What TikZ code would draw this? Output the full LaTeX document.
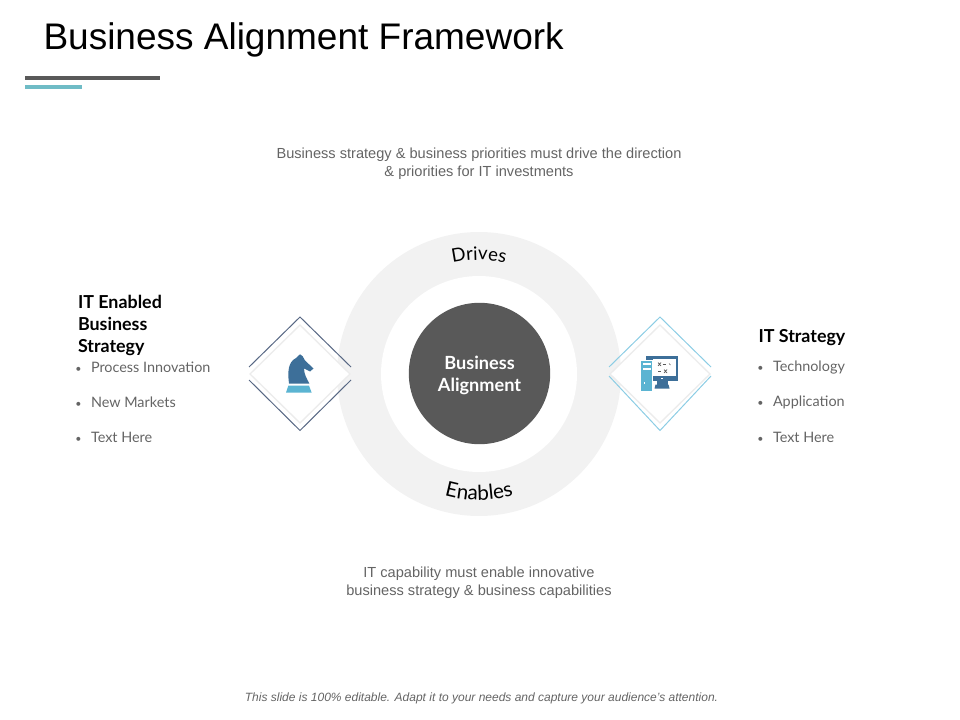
\documentclass[tikz,border=0pt]{standalone}
\usepackage{fontspec}
\setmainfont{Liberation Sans}
\newfontfamily\labelfont{Lato}
\usetikzlibrary{decorations.text}

\definecolor{ringgray}{RGB}{242,242,242}
\definecolor{hubgray}{RGB}{89,89,89}
\definecolor{bodygray}{RGB}{100,100,100}
\definecolor{barteal}{RGB}{111,188,198}
\definecolor{iconblue}{RGB}{61,111,153}
\definecolor{iconsky}{RGB}{91,180,210}
\definecolor{leftedge}{RGB}{88,104,132}
\definecolor{rightedge}{RGB}{140,205,228}
\definecolor{diamondedge}{RGB}{236,236,236}

\newcommand{\bulletitem}[1]{\llap{\footnotesize\textbullet\hspace{7pt}}#1}

\tikzset{every picture/.style={line width=0.75pt}}
\tikzset{
	note/.style={inner sep=0.75pt,align=center,text=bodygray,font=\fontsize{10.95}{13.5}\selectfont},
	heading/.style={anchor=west,inner sep=0.75pt,align=left,font=\labelfont\bfseries\fontsize{13.4}{16.5}\selectfont},
	itemtext/.style={anchor=west,inner sep=0.75pt,text=bodygray,font=\labelfont\fontsize{10.8}{12}\selectfont},
	arcword/.style 2 args={decorate,decoration={text along path,text align=center,text={|\labelfont\fontsize{#1}{#1}\selectfont|#2}}}
}

\begin{document}
\begin{tikzpicture}[x=0.75pt,y=0.75pt,yscale=-1,xscale=1]
	\useasboundingbox (0,0) rectangle (960,720);

	%Title and bars
	\node (title) [anchor=west,inner sep=0pt,font=\fontsize{27.75}{30}\selectfont] at (43,40) {Business Alignment Framework};
	\fill [hubgray] (25,76) rectangle (160,80);
	\fill [barteal] (25,85) rectangle (82,89);

	%Shape: Ring
	\fill [ringgray] (479,374) circle (142);
	\fill [white] (479,374) circle (98);
	\fill [hubgray] (479.5,373.5) circle (70.7);
	\node (hub) [inner sep=0pt,align=center,text=white,font=\labelfont\bfseries\fontsize{13.6}{16.5}\selectfont] at (479.5,375) {Business\\Alignment};

	%Words on the ring
	\path [arcword={14}{Drives}] (479,374) ++(250:114) arc (250:290:114);
	\path [arcword={15.5}{Enables}] (479,374) ++(110:126) arc (110:70:126);

	%Shape: Left diamond
	\draw [diamondedge,fill=white,line width=1pt] (300,325) -- (350,374) -- (300,423) -- (250,374) -- cycle;
	\draw [leftedge] (249,367) -- (300,317) -- (351,367);
	\draw [leftedge] (249,380) -- (300,430.5) -- (351,380);

	%Shape: Right diamond
	\draw [diamondedge,fill=white,line width=1pt] (660,325) -- (710,374) -- (660,423) -- (610,374) -- cycle;
	\draw [rightedge] (609,367) -- (660,317) -- (711,367);
	\draw [rightedge] (609,376) -- (660,430.5) -- (711,376);

	%Knight icon
	\fill [iconsky] (288.3,385.7) -- (309,385.7) -- (311.7,392.7) -- (286,392.7) -- cycle;
	\fill [iconblue] (289,383.5) .. controls (287.5,372) and (288,362) .. (296,358) -- (300,354.3) -- (302.7,356.3) -- (305,360.5) -- (313.5,368.5) -- (310,371.5) -- (304,368.5) .. controls (304,374) and (307,379) .. (309.3,383.5) -- cycle;

	%Computer icon
	\fill [iconblue] (645.7,356) rectangle (678.3,381);
	\fill [white] (653,359.3) rectangle (675.7,376);
	\fill [iconblue] (657,381) rectangle (667.5,384.5);
	\fill [iconblue] (655.5,384.5) -- (668.5,384.5) -- (669.5,388.5) -- (654.5,388.5) -- cycle;
	\fill [white] (661,377.5) rectangle (662.5,379);
	\fill [white] (640,360) rectangle (653,392);
	\fill [iconblue] (645.7,356) rectangle (653,359.3);
	\fill [iconsky] (641,361) rectangle (652.3,391);
	\fill [white] (643,363.2) rectangle (650.5,365);
	\fill [white] (643,368) rectangle (650.5,369.8);
	\fill [white] (643.5,382) rectangle (645,383.5);
	\draw [hubgray,line width=0.5pt] (658,362.5) -- (661,366)(661,362.5) -- (658,366);
	\draw [hubgray,line width=0.5pt] (662.5,364.3) -- (666,364.3);
	\draw [hubgray,line width=0.5pt] (669,363.5) -- (670.5,365);
	\draw [hubgray,line width=0.5pt] (658,371.5) -- (660.5,371.5);
	\draw [hubgray,line width=0.5pt] (664,369.5) -- (667,373)(667,369.5) -- (664,373);

	%Notes
	\node (topnote) [note] at (479,164) {Business strategy \& business priorities must drive the direction\\\& priorities for IT investments};
	\node (bottomnote) [note] at (479,583) {IT capability must enable innovative\\business strategy \& business capabilities};
	\node (footer) [inner sep=0.75pt,text=bodygray,font=\itshape\fontsize{9}{11}\selectfont] at (481.5,698.5) {This slide is 100\% editable. Adapt it to your needs and capture your audience's attention.};

	%Left column
	\node (leftheading) [heading] at (76.5,325) {IT Enabled\\Business\\Strategy};
	\node (leftone) [itemtext] at (89.5,367.3) {\bulletitem{Process Innovation}};
	\node (lefttwo) [itemtext] at (89.5,402.3) {\bulletitem{New Markets}};
	\node (leftthree) [itemtext] at (89.5,437.3) {\bulletitem{Text Here}};

	%Right column
	\node (rightheading) [heading] at (757,338) {IT Strategy};
	\node (rightone) [itemtext] at (771.5,367.3) {\bulletitem{Technology}};
	\node (righttwo) [itemtext] at (771.5,402.3) {\bulletitem{Application}};
	\node (rightthree) [itemtext] at (771.5,437.3) {\bulletitem{Text Here}};
\end{tikzpicture}
\end{document}
